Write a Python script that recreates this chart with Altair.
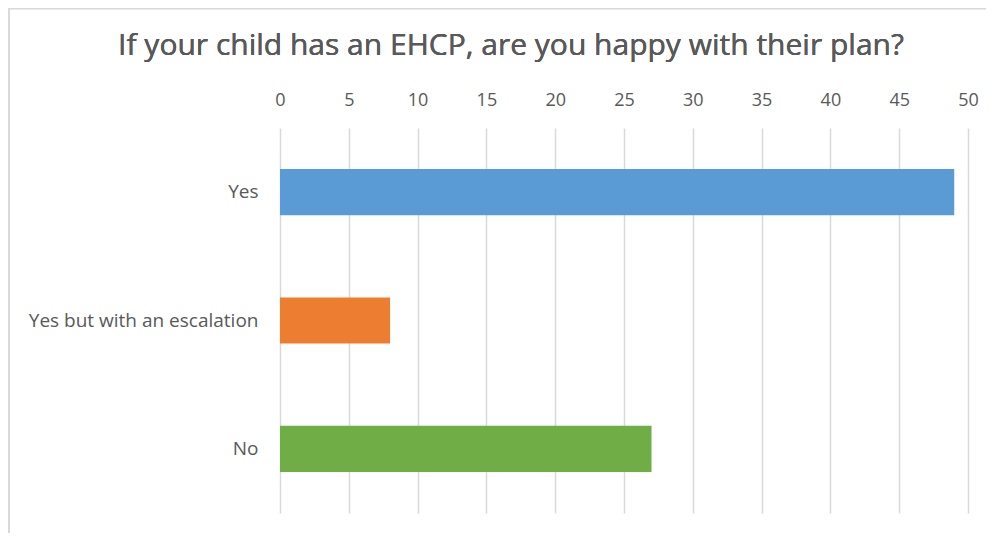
import altair as alt
import pandas as pd

categories = ["Yes", "Yes but with an escalation", "No"]
values = [49, 8, 27]
colors = ["#5B9BD5", "#ED7D31", "#70AD47"]
title_text = "If your child has an EHCP, are you happy with their plan?"
x_ticks = list(range(0, 51, 5))

df = pd.DataFrame({"category": categories, "value": values})

W, H = 688, 385
FONT = "Open Sans"

bars = alt.Chart(df).mark_bar().encode(
    y=alt.Y("category:N", sort=categories, title=None,
            scale=alt.Scale(paddingInner=0.64, paddingOuter=0.32),
            axis=alt.Axis(domain=False, ticks=False, labelPadding=22, labelLimit=400,
                          labelFontSize=19, labelColor="#595959", labelFont=FONT,
                          grid=False)),
    x=alt.X("value:Q", title=None,
            scale=alt.Scale(domain=[0, 50], nice=False),
            axis=alt.Axis(orient="top", values=x_ticks, domain=False, ticks=False,
                          labelFlush=False, labelPadding=19, labelFontSize=18,
                          labelColor="#595959", labelFont=FONT,
                          gridColor="#D9D9D9", gridWidth=1.5)),
    color=alt.Color("category:N", sort=categories,
                    scale=alt.Scale(domain=categories, range=colors), legend=None),
)

frame = alt.Chart(df).mark_rect(fill=None, stroke="#D9D9D9", strokeWidth=1.5).encode(
    x=alt.value(-271), x2=alt.value(W + 40),
    y=alt.value(-119.5), y2=alt.value(H + 40),
)

title = alt.Chart(df).mark_text(font=FONT, fontSize=30, color="#595959",
                                align="center", baseline="middle").encode(
    x=alt.value(231), y=alt.value(-82), text=alt.value(title_text)
)

chart = alt.layer(frame, bars, title).properties(
    width=W, height=H,
    padding={"left": 272, "top": 120, "right": 18, "bottom": 20},
    autosize=alt.AutoSizeParams(type="none"),
).configure(background="white").configure_view(stroke=None)

chart.save("out.html", embed_options={"renderer": "svg", "actions": False})
